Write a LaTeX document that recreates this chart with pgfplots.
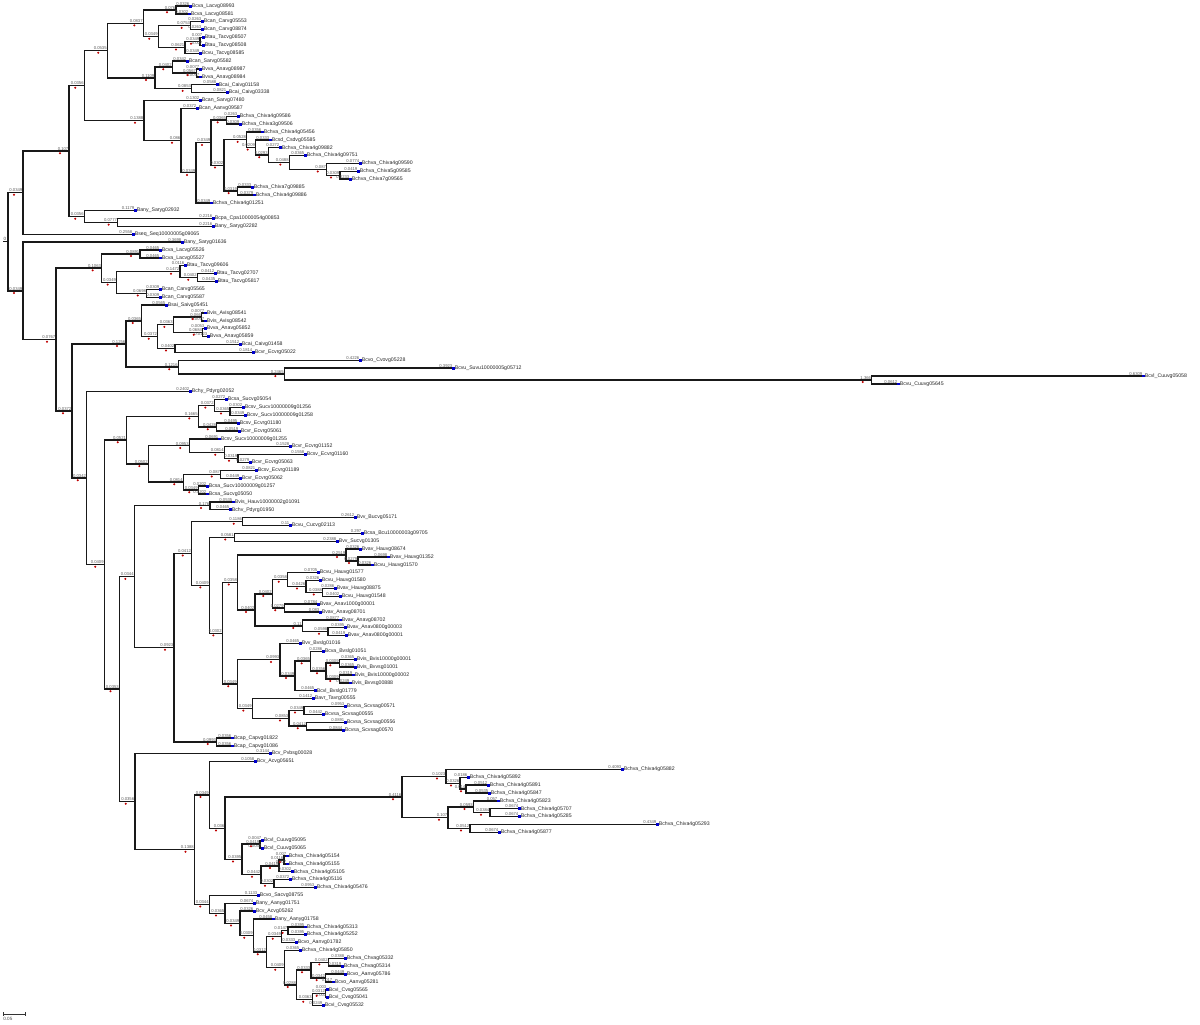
\documentclass[border=0pt]{standalone}
\usepackage{pgfplots}
\usepackage{pgfplotstable}
\pgfplotsset{compat=1.18}
\usepackage{fontspec}
\setmainfont{Liberation Sans}

% internal nodes: parent x, node x, node y (pixel units, y downwards)
\pgfplotstableread{
xp x y
8 23 192.6
23 69 151
69 84.3 85.5
84.3 107.3 50.5
107.3 143.3 23.2
143.3 176 9.95
143.3 158.3 36.5
158.3 190.7 25.65
158.3 185 47.3
185 200 41.45
107.3 155 77.8
155 172.3 67.0
172.3 196.7 72.9
155 191.7 88.65
84.3 144 120.45
144 181 140.5
181 196 172.75
196 211 142.7
211 226.7 120.15
211 224 165.3
224 246.7 139.65
246.7 255.7 147.4
255.7 268.3 155.05
268.3 289.3 162.4
289.3 326.7 169.3
326.7 340 175.2
224 237.7 190.95
69 84.3 216.5
84.3 117.7 222.45
8 23 290.85
23 56 339.6
56 101.7 268.15
101.7 140 253.9
101.7 116.7 282.4
116.7 180 271.6
180 197.3 277.55
116.7 146.7 293.25
56 72 411
72 126 343.9
126 141.7 320.8
141.7 157.7 336.5
157.7 173.3 324.7
173.3 201.7 316.85
173.3 202.7 332.6
157.7 175 348.35
126 178.3 367.05
178.3 284.3 373.9
284.3 871.7 379.85
72 86.7 478.1
86.7 104.3 564.6
104.3 126.7 440.05
126.7 198.3 416.2
198.3 214.3 405.4
214.3 230 411.3
198.3 216.7 427.05
126.7 148.3 463.9
148.3 189.3 445.75
189.3 224.3 452.6
224.3 238 458.55
148.3 183.3 482.1
183.3 220.7 474.25
183.3 198.3 490
104.3 119.5 689.15
119.5 134.3 576.7
134.3 210 505.75
134.3 174 647.6
174 191.7 553.35
191.7 242.7 521.5
191.7 209.3 585.2
209.3 234.3 537.25
209.3 222.3 633.2
222.3 237.7 582.35
237.7 346 554.9
346 358 560.85
237.7 255 609.8
255 272.3 593.8
272.3 287.7 579.5
287.7 306 586.4
306 322.7 592.35
272.3 284.3 608.05
255 302.3 625.8
302.3 328 631.65
222.3 237.3 684.05
237.3 280 659.7
280 295 675.9
295 310.7 661.15
310.7 326 671
326 339.3 663.15
326 339.3 678.85
237.3 252.3 708.4
252.3 289 718.2
289 304 710.35
289 306.7 726.1
174 216.7 741.85
119.5 134.8 801.6
134.8 194.5 849.55
194.5 209.5 794.85
209.5 225 828.2
225 402 796.95
402 446 776.3
446 460 783.2
460 466 789.05
402 448 817.6
448 473.5 806.8
473.5 490 812.65
448 470 828.4
225 242 859.4
242 260 844.15
242 261 874.65
261 279 865.8
279 284 859.85
261 274 883.5
194.5 209.3 904.25
209.3 225 913.2
225 240 923.25
240 253.3 935.5
253.3 266.7 952.1
266.7 281.7 936.6
281.7 288 930.7
266.7 284.3 967.6
284.3 296.7 984.85
296.7 311 970.1
311 328.3 962.2
311 325.7 977.95
296.7 312.3 999.6
312.3 325.7 993.65
}\internal

% vertical lines of the internal nodes
\pgfplotstableread{
x y1 y2
8 192.6 290.85
23 151 234.2
69 85.5 216.5
84.3 50.5 120.45
107.3 23.2 77.8
143.3 9.95 36.5
176 6.0 13.9
158.3 25.65 47.3
190.7 21.7 29.6
185 41.45 53.2
200 37.5 45.4
155 67.0 88.65
172.3 61.1 72.9
196.7 69.0 76.8
191.7 84.7 92.6
144 100.4 140.5
181 108.3 172.75
196 142.7 202.8
211 120.15 165.3
226.7 116.2 124.1
224 139.65 190.95
246.7 131.9 147.4
255.7 139.8 155.05
268.3 147.7 162.4
289.3 155.5 169.3
326.7 163.4 175.2
340 171.3 179.1
237.7 187.0 194.9
84.3 210.6 222.45
117.7 218.5 226.4
23 242.1 339.6
56 268.15 411
101.7 253.9 282.4
140 250.0 257.8
116.7 271.6 293.25
180 265.7 277.55
197.3 273.6 281.5
146.7 289.3 297.2
72 343.9 478.1
126 320.8 367.05
141.7 305.1 336.5
157.7 324.7 348.35
173.3 316.85 332.6
201.7 312.9 320.8
202.7 328.7 336.5
175 344.4 352.3
178.3 360.2 373.9
284.3 368.0 379.85
871.7 375.9 383.8
86.7 391.6 564.6
104.3 440.05 689.15
126.7 416.2 463.9
198.3 405.4 427.05
214.3 399.5 411.3
230 407.4 415.2
216.7 423.1 431.0
148.3 445.75 482.1
189.3 438.9 452.6
224.3 446.7 458.55
238 454.6 462.5
183.3 474.25 490
220.7 470.3 478.2
198.3 486.1 493.9
119.5 576.7 801.6
134.3 505.75 647.6
210 501.8 509.7
174 553.35 741.85
191.7 521.5 585.2
242.7 517.6 525.4
209.3 537.25 633.2
234.3 533.3 541.2
222.3 582.35 684.05
237.7 554.9 609.8
346 549.0 560.85
358 556.9 564.8
255 593.8 625.8
272.3 579.5 608.05
287.7 572.6 586.4
306 580.5 592.35
322.7 588.4 596.3
284.3 604.1 612.0
302.3 619.9 631.65
328 627.7 635.6
237.3 659.7 708.4
280 643.5 675.9
295 661.15 690.7
310.7 651.3 671
326 663.15 678.85
339.3 659.2 667.1
339.3 674.9 682.8
252.3 698.6 718.2
289 710.35 726.1
304 706.4 714.3
306.7 722.2 730.0
216.7 737.9 745.8
134.8 753.6 849.55
194.5 794.85 904.25
209.5 761.5 828.2
225 796.95 859.4
402 776.3 817.6
446 769.4 783.2
460 777.3 789.05
466 785.1 793.0
448 806.8 828.4
473.5 800.9 812.65
490 808.7 816.6
470 824.5 832.3
242 844.15 874.65
260 840.2 848.1
261 865.8 883.5
279 859.85 871.7
284 855.9 863.8
274 879.6 887.4
209.3 895.3 913.2
225 903.2 923.25
240 911.0 935.5
253.3 918.9 952.1
266.7 936.6 967.6
281.7 930.7 942.5
288 926.8 934.6
284.3 950.4 984.85
296.7 970.1 999.6
311 962.2 977.95
328.3 958.3 966.1
325.7 974.0 981.9
312.3 993.65 1005.5
325.7 989.7 997.6
}\verticals

% leaves: parent x, end x, y, name
\pgfplotstableread{
xp x y name
176 190 6.0 Bcva\_Lacvg08993
176 189 13.9 Bcva\_Lacvg08581
190.7 202 21.7 Bcan\_Carvg05553
190.7 202 29.6 Bcan\_Carvg08874
200 203 37.5 Btau\_Tacvg08507
200 203 45.4 Btau\_Tacvg08508
185 200 53.2 Bcvu\_Tacvg08585
172.3 187 61.1 Bcan\_Sarvg05582
196.7 200 69.0 Bvva\_Anavg08987
196.7 200 76.8 Bvva\_Anavg08984
191.7 217 84.7 Bcai\_Caivg01158
191.7 227 92.6 Bcai\_Caivg03338
144 200 100.4 Bcan\_Sarvg07480
181 197 108.3 Bcan\_Aanvg09587
226.7 238 116.2 Bchva\_Chiva4g09586
226.7 240 124.1 Bchva\_Chiva3g09506
246.7 262 131.9 Bchva\_Chiva4g05456
255.7 270 139.8 Bcsd\_Csdvg05585
268.3 280 147.7 Bchva\_Chiva4g09882
289.3 305 155.5 Bchva\_Chiva4g09751
326.7 360 163.4 Bchva\_Chiva4g09590
340 358 171.3 Bchva\_Chiva5g09585
340 350 179.1 Bchva\_Chiva7g09565
237.7 252 187.0 Bchva\_Chiva7g09885
237.7 254 194.9 Bchva\_Chiva4g09886
196 211 202.8 Bchva\_Chiva4g01251
84.3 135 210.6 Bany\_Saryg02932
117.7 213 218.5 Bcpa\_Cpa10000054g00853
117.7 213 226.4 Bany\_Saryg02282
23 133 234.2 Bseq\_Seq10000005g09065
23 182 242.1 Bany\_Saryg01636
140 160 250.0 Bcva\_Lacvg05526
140 160 257.8 Bcva\_Lacvg05527
180 185 265.7 Btau\_Tacvg09606
197.3 215 273.6 Btau\_Tacvg02707
197.3 216 281.5 Btau\_Tacvg05817
146.7 160 289.3 Bcan\_Carvg05565
146.7 160 297.2 Bcan\_Carvg05587
141.7 166 305.1 Bsai\_Saivg05451
201.7 205 312.9 Bvis\_Avisg08541
201.7 205 320.8 Bvis\_Avisg08542
202.7 205 328.7 Bvva\_Anavg05852
202.7 208 336.5 Bvva\_Anavg05859
175 240 344.4 Bcai\_Caivg01458
175 253 352.3 Bcvr\_Ecvrg05022
178.3 360 360.2 Bcvo\_Cvovg05228
284.3 453 368.0 Bcvu\_Suvu10000005g05712
871.7 1143 375.9 Bcvl\_Cuuvg05058
871.7 898 383.8 Bcvu\_Cuuvg05645
86.7 190 391.6 Bchy\_Pdyrg02052
214.3 226 399.5 Bcsa\_Sucvg05054
230 243 407.4 Bcsv\_Sucv10000009g01256
230 245 415.2 Bcsv\_Sucv10000009g01258
216.7 238 423.1 Bcsv\_Ecvrg01180
216.7 239 431.0 Bcvr\_Ecvrg05061
189.3 219 438.9 Bcsv\_Sucv10000009g01255
224.3 290 446.7 Bcvr\_Ecvrg01152
238 305 454.6 Bcsv\_Ecvrg01160
238 250 462.5 Bcvr\_Ecvrg05063
220.7 256 470.3 Bcsv\_Ecvrg01189
220.7 240 478.2 Bcvr\_Ecvrg05062
198.3 207 486.1 Bcsa\_Sucv10000009g01257
198.3 207 493.9 Bcsa\_Sucvg05050
210 233 501.8 Bvis\_Hauv10000002g01091
210 230 509.7 Bchv\_Pdyrg01950
242.7 355 517.6 Bvv\_Bucvg05171
242.7 290 525.4 Bcvu\_Cucvg02113
234.3 362 533.3 Bcsa\_Bcu10000003g09705
234.3 337 541.2 Bvv\_Sucvg01305
346 360 549.0 Bvav\_Hauvg08674
358 388 556.9 Bvav\_Hauvg01352
358 372 564.8 Bcvu\_Hauvg01570
287.7 318 572.6 Bcvu\_Hauvg01577
306 320 580.5 Bcvu\_Hauvg01580
322.7 335 588.4 Bvav\_Hauvg08875
322.7 340 596.3 Bcvu\_Hauvg01548
284.3 318 604.1 Bvav\_Anav1000g00001
284.3 320 612.0 Bvav\_Anavg08701
302.3 340 619.9 Bvav\_Anavg08702
328 345 627.7 Bvav\_Anav0800g00003
328 346 635.6 Bvav\_Anav0800g00001
280 300 643.5 Bvv\_Bvslg01016
310.7 323 651.3 Bcva\_Bvslg01051
339.3 355 659.2 Bvis\_Bvis10000g00001
339.3 355 667.1 Bvis\_Bvvsg01001
339.3 353 674.9 Bvis\_Bvis10000g00002
339.3 350 682.8 Bvis\_Bvvsg00888
295 315 690.7 Bcvl\_Bvslg01779
252.3 313 698.6 Bavr\_Tavrg00555
304 345 706.4 Bcvsa\_Scvsag00571
304 323 714.3 Bcvsa\_Scvsag00555
306.7 345 722.2 Bcvsa\_Scvsag00556
306.7 343 730.0 Bcvsa\_Scvsag00570
216.7 232 737.9 Bcap\_Capvg01822
216.7 232 745.8 Bcap\_Capvg01086
134.8 270 753.6 Bcv\_Pvbsg00028
209.5 255 761.5 Bcv\_Acvg05651
446 622 769.4 Bchva\_Chiva4g05882
460 468 777.3 Bchva\_Chiva4g05892
466 488 785.1 Bchva\_Chiva4g05891
466 489 793.0 Bchva\_Chiva4g05847
473.5 498 800.9 Bchva\_Chiva4g05823
490 519 808.7 Bchva\_Chiva4g05707
490 519 816.6 Bchva\_Chiva4g05285
470 657 824.5 Bchva\_Chiva4g05293
470 499 832.3 Bchva\_Chiva4g05877
260 262 840.2 Bcvl\_Cuuvg05095
260 262 848.1 Bcvl\_Cuuvg05065
284 287 855.9 Bchva\_Chiva4g05154
284 287 863.8 Bchva\_Chiva4g05155
279 292 871.7 Bchva\_Chiva4g05105
274 290 879.6 Bchva\_Chiva4g05116
274 315 887.4 Bchva\_Chiva4g05476
209.3 258 895.3 Bcvo\_Sacvg08755
225 254 903.2 Bany\_Aanyg01751
240 254 911.0 Bcv\_Acvg05262
253.3 273 918.9 Bany\_Aanyg01758
288 305 926.8 Bchva\_Chiva4g05313
288 305 934.6 Bchva\_Chiva4g05252
281.7 296 942.5 Bcvo\_Aanvg01782
284.3 300 950.4 Bchva\_Chiva4g05850
328.3 345 958.3 Bchva\_Chvag05332
328.3 342 966.1 Bchva\_Chvag05314
325.7 345 974.0 Bcvo\_Aanvg05786
325.7 333 981.9 Bcvo\_Aanvg05281
325.7 327 989.7 Bcvi\_Cvsg05565
325.7 327 997.6 Bcvi\_Cvsg05041
312.3 323 1005.5 Bcvi\_Cvsg05532
}\leaves

\begin{document}
\begin{tikzpicture}
\useasboundingbox (0,0) rectangle (600pt,512pt);
\begin{axis}[
  at={(0,0)}, anchor=south west,
  scale only axis, width=600pt, height=512pt,
  xmin=0, xmax=1200, ymin=0, ymax=1024, y dir=reverse,
  hide axis, clip=false,
  /pgf/number format/assume math mode=true,
  branch/.style={black!90, line width=0.7pt, line cap=rect},
  bl/.style={draw=none, nodes near coords,
    point meta={(\thisrow{x}-\thisrow{xp})/430},
    nodes near coords style={anchor=south east, inner sep=0.15pt,
      font=\fontsize{2.1}{2.3}\selectfont, text=black!65,
      /pgf/number format/.cd, fixed, precision=4}},
]
% vertical branch lines
\addplot[branch, quiver={u=0, v={\thisrow{y2}-\thisrow{y1}}}] table[x=x, y=y1] \verticals;
% horizontal internal branches
\addplot[branch, quiver={u={\thisrow{x}-\thisrow{xp}}, v=0}] table[x=xp, y=y] \internal;
% horizontal leaf branches
\addplot[branch, quiver={u={\thisrow{x}-\thisrow{xp}}, v=0}] table[x=xp, y=y] \leaves;
% root stub
\addplot[branch] coordinates {(4,241.7) (8,241.7)};
% branch length labels
\addplot[bl] table[x=x, y=y] \internal;
\addplot[bl] table[x=x, y=y] \leaves;
% support marks on internal branches
\addplot[only marks, mark=*, mark size=0.28pt, red!75!black]
  table[x expr={max(\thisrow{xp}+1,\thisrow{x}-9)}, y expr={\thisrow{y}+2.2}] \internal;
% leaf markers and names
\addplot[only marks, mark=square*, mark size=0.45pt, blue!80!black] table[x=x, y=y] \leaves;
\addplot[draw=none, nodes near coords, point meta=explicit symbolic,
  nodes near coords style={anchor=west, inner sep=0pt, xshift=0.7pt,
    font=\fontsize{2.6}{2.8}\selectfont, text=black!85}]
  table[x=x, y=y, meta=name] \leaves;
% scale bar
\addplot[black!80, line width=0.35pt] coordinates {(3,1014) (25,1014)};
\addplot[black!80, line width=0.35pt] coordinates {(3,1012) (3,1016)};
\addplot[black!80, line width=0.35pt] coordinates {(25,1012) (25,1016)};
\node[anchor=north west, inner sep=0pt, font=\fontsize{2.3}{2.5}\selectfont, text=black!70] at (axis cs:3,1016.5) {0.05};
\node[anchor=south east, inner sep=0.2pt, font=\fontsize{2.3}{2.5}\selectfont, text=black!70] at (axis cs:7,241.7) {0};
\end{axis}
\end{tikzpicture}
\end{document}
